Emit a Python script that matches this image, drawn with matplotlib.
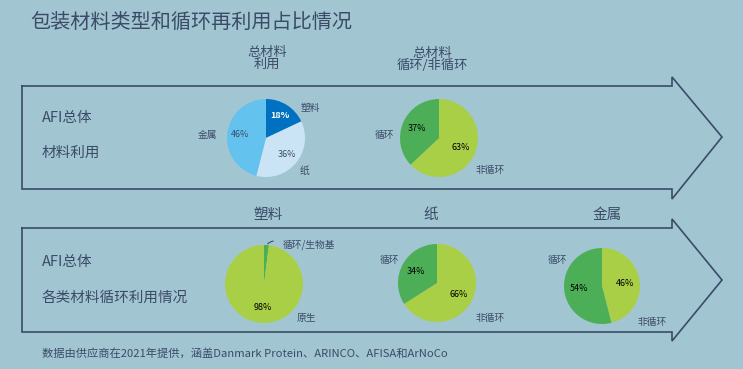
import matplotlib.pyplot as plt

plt.rcParams["font.family"] = ["Noto Sans CJK SC", "DejaVu Sans"]

W, H = 743, 369
BG = "#A2C5D2"
INK = "#3B4B67"

title = "包装材料类型和循环再利用占比情况"
footer = "数据由供应商在2021年提供，涵盖Danmark Protein、ARINCO、AFISA和ArNoCo"

# pie data, clockwise from 12 o'clock
total_labels = ["塑料", "纸", "金属"]
total_values = [18, 36, 46]
total_colors = ["#0070C0", "#CAE4F6", "#64C3EE"]

cycle_labels = ["非循环", "循环"]
cycle_values = [63, 37]

plastic_labels = ["循环/生物基", "原生"]
plastic_values = [2, 98]

paper_labels = ["非循环", "循环"]
paper_values = [66, 34]

metal_labels = ["非循环", "循环"]
metal_values = [46, 54]

DARK_G = "#4CAF57"
LIGHT_G = "#A9CF46"

fig = plt.figure(figsize=(W / 100, H / 100), dpi=100)
fig.patch.set_facecolor(BG)
bg = fig.add_axes([0, 0, 1, 1])
bg.set_xlim(0, W)
bg.set_ylim(H, 0)
bg.axis("off")


def arrow(top, bot, head_top, head_bot, tip_y):
    xs = [22, 672, 672, 722, 672, 672, 22, 22]
    ys = [top, top, head_top, tip_y, head_bot, bot, bot, top]
    bg.plot(xs, ys, color=INK, lw=1.2, solid_joinstyle="miter")


arrow(86, 189, 77, 199, 137)
arrow(228, 332, 219, 341, 280)

bg.text(30, 22, title, fontsize=14.5, color=INK, va="center", ha="left")
bg.text(42, 353, footer, fontsize=8.1, color=INK, va="center", ha="left")

for y, s in [(118, "AFI总体"), (153, "材料利用"), (262, "AFI总体"), (298, "各类材料循环利用情况")]:
    bg.text(42, y, s, fontsize=10.5, color=INK, va="center", ha="left")

bg.text(267, 58, "总材料\n利用", fontsize=9.5, color=INK, ha="center", va="center", linespacing=0.9)
bg.text(432, 59, "总材料\n循环/非循环", fontsize=9.5, color=INK, ha="center", va="center", linespacing=0.9)
for x, s in [(268, "塑料"), (431, "纸"), (607, "金属")]:
    bg.text(x, 215, s, fontsize=10.5, color=INK, ha="center", va="center")


def pie(cx, cy, r, values, colors, pct_colors, pctdist=0.62):
    ax = fig.add_axes([(cx - r) / W, 1 - (cy + r) / H, 2 * r / W, 2 * r / H])
    wedges, _, autotexts = ax.pie(values, colors=colors, startangle=90, counterclock=False,
                                  autopct="%d%%", pctdistance=pctdist,
                                  textprops=dict(fontsize=6.5))
    for t, c in zip(autotexts, pct_colors):
        t.set_color(c)
    ax.set_xlim(-1, 1)
    ax.set_ylim(-1, 1)
    ax.set_aspect("equal")
    ax.axis("off")
    return autotexts


at = pie(266, 138, 39, total_values, total_colors, ["white", INK, INK], 0.68)
at[0].set_fontweight("bold")
pie(439, 138, 39, cycle_values, [LIGHT_G, DARK_G], ["black", "black"])
at = pie(264, 284, 39, plastic_values, [DARK_G, LIGHT_G], ["black", "black"], 0.6)
at[0].set_visible(False)
pie(437, 283, 39, paper_values, [LIGHT_G, DARK_G], ["black", "black"])
pie(602, 286, 38, metal_values, [LIGHT_G, DARK_G], ["black", "black"])

# category labels
lab_kw = dict(fontsize=7, color=INK, ha="center", va="center")
for (x, y), s in zip([(310, 108), (304, 171), (208, 135)], total_labels):
    bg.text(x, y, s, **lab_kw)
for (x, y), s in zip([(490, 170), (384, 135)], cycle_labels):
    bg.text(x, y, s, **lab_kw)
bg.text(283, 245, plastic_labels[0], fontsize=7, color=INK, ha="left", va="center")
bg.text(306, 318, plastic_labels[1], **lab_kw)
bg.annotate("", xy=(266, 246), xytext=(276, 241),
            arrowprops=dict(arrowstyle="-", color=INK, lw=0.8, connectionstyle="arc3,rad=0.3"))
for (x, y), s in zip([(490, 318), (389, 260)], paper_labels):
    bg.text(x, y, s, **lab_kw)
for (x, y), s in zip([(652, 322), (557, 260)], metal_labels):
    bg.text(x, y, s, **lab_kw)

fig.savefig("out.png", dpi=100, facecolor=BG)
